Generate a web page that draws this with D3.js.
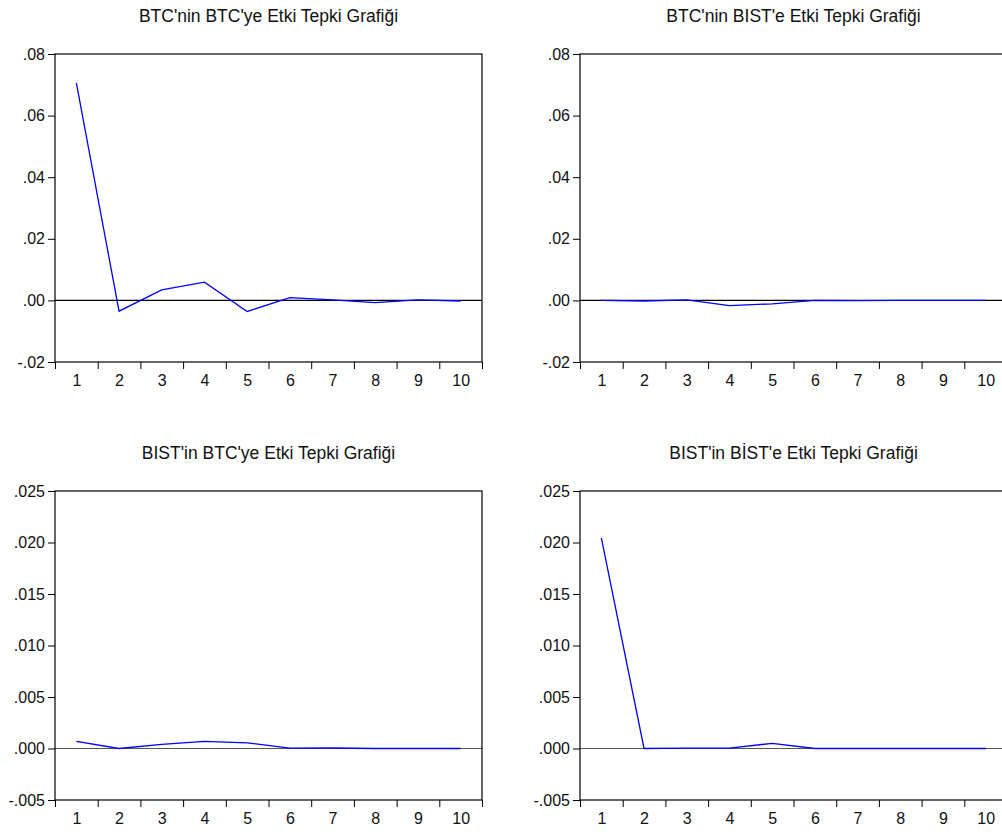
<!DOCTYPE html>
<html><head><meta charset="utf-8">
<script src="https://cdn.jsdelivr.net/npm/d3@7"></script>
<style>body{margin:0;background:#fff;} svg{display:block;} text{font-family:"Liberation Sans",Arial,sans-serif;fill:#111;}</style>
</head><body>
<svg id="c" width="1002" height="832"></svg>
<script>
const periods = [1,2,3,4,5,6,7,8,9,10];
const titles = ["BTC'nin BTC'ye Etki Tepki Grafiği","BTC'nin BIST'e Etki Tepki Grafiği","BIST'in BTC'ye Etki Tepki Grafiği","BIST'in BİST'e Etki Tepki Grafiği"];
const btcBtc  = [0.0706,-0.0035,0.0034,0.0059,-0.0036,0.0009,0.0002,-0.0007,0.0002,-0.0002];
const btcBist = [0.0000,-0.0002,0.0002,-0.0017,-0.0011,0.0000,-0.0001,0.0000,0.0000,0.0000];
const bistBtc = [0.0007,0.0000,0.0004,0.0007,0.00055,0.00003,0.00005,0.0000,0.0000,0.0000];
const bistBist= [0.02045,0.0000,0.00003,0.00003,0.0005,0.0000,0.0000,0.0000,0.0000,0.0000];
const yTicksTop = [-0.02,0,0.02,0.04,0.06,0.08];
const yTicksBot = [-0.005,0,0.005,0.010,0.015,0.020,0.025];

const panels = [
  {title:titles[0], data:btcBtc,  ticks:yTicksTop, fmt:".2f", x0:55,  x1:482,  y0:54,  y1:362, ty:22,  zero:"#000"},
  {title:titles[1], data:btcBist, ticks:yTicksTop, fmt:".2f", x0:580, x1:1007, y0:54,  y1:362, ty:22,  zero:"#000"},
  {title:titles[2], data:bistBtc, ticks:yTicksBot, fmt:".3f", x0:55,  x1:482,  y0:491, y1:800, ty:459, zero:"#555"},
  {title:titles[3], data:bistBist,ticks:yTicksBot, fmt:".3f", x0:580, x1:1007, y0:491, y1:800, ty:459, zero:"#555"}
];
const svg = d3.select("#c");
panels.forEach(p=>{
  const g = svg.append("g");
  const x = d3.scaleLinear().domain([0.5,10.5]).range([p.x0,p.x1]);
  const y = d3.scaleLinear().domain([p.ticks[0],p.ticks[p.ticks.length-1]]).range([p.y1,p.y0]);
  const f = d3.format(p.fmt);
  const lab = v => f(v).replace("\u2212","-").replace("0.",".");
  g.append("text").attr("x",(p.x0+p.x1)/2).attr("y",p.ty).attr("text-anchor","middle")
    .style("font-size","17.5px").text(p.title);
  const ya = g.append("g").attr("transform",`translate(${p.x0},0)`)
    .call(d3.axisLeft(y).tickValues(p.ticks).tickSize(7).tickPadding(3).tickFormat(lab));
  ya.select(".domain").remove();
  ya.selectAll("line").attr("stroke","#000");
  ya.selectAll("text").style("font-size","16px").style("font-family","'Liberation Sans',Arial,sans-serif").style("fill","#111");
  const bounds = periods.map(d=>d-0.5).concat([10.5]);
  const xa = g.append("g").attr("transform",`translate(0,${p.y1})`)
    .call(d3.axisBottom(x).tickValues(bounds).tickSize(7).tickFormat(""));
  xa.select(".domain").remove();
  xa.selectAll("line").attr("stroke","#000");
  const xl = g.append("g").attr("transform",`translate(0,${p.y1})`)
    .call(d3.axisBottom(x).tickValues(periods).tickSize(0).tickPadding(13).tickFormat(d3.format("d")));
  xl.select(".domain").remove();
  xl.selectAll("text").style("font-size","16px").style("font-family","'Liberation Sans',Arial,sans-serif").style("fill","#111");
  g.append("line").attr("x1",p.x0).attr("x2",p.x1).attr("y1",y(0)).attr("y2",y(0))
    .attr("stroke",p.zero).attr("stroke-width",1.2);
  g.append("rect").attr("x",p.x0).attr("y",p.y0).attr("width",p.x1-p.x0).attr("height",p.y1-p.y0)
    .attr("fill","none").attr("stroke","#000").attr("stroke-width",1.2);
  const line = d3.line().x((d,i)=>x(periods[i])).y(d=>y(d));
  g.append("path").datum(p.data).attr("d",line).attr("fill","none").attr("stroke","#0000ff").attr("stroke-width",1.3);
});
</script>
</body></html>
